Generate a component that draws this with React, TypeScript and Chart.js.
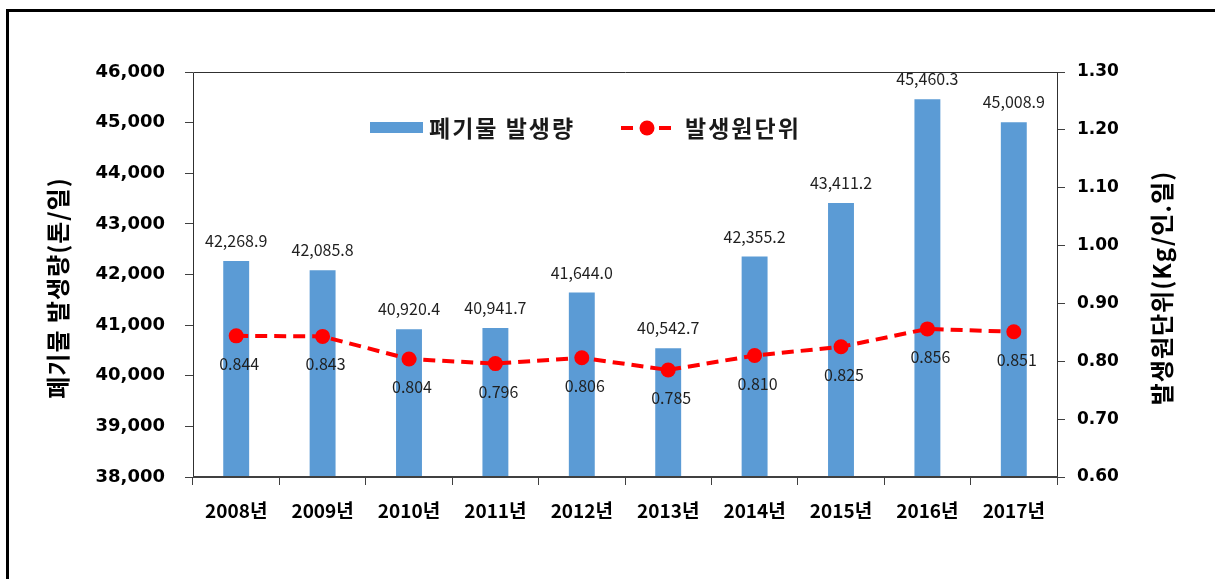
import React, { useEffect, useRef } from "react";
import { Chart, registerables } from "chart.js";
Chart.register(...registerables);

const years = ["2008년", "2009년", "2010년", "2011년", "2012년", "2013년", "2014년", "2015년", "2016년", "2017년"];
const wasteAmount = [42268.9, 42085.8, 40920.4, 40941.7, 41644.0, 40542.7, 42355.2, 43411.2, 45460.3, 45008.9];
const unitRate = [0.844, 0.843, 0.804, 0.796, 0.806, 0.785, 0.810, 0.825, 0.856, 0.851];
const leftAxisTitle = "폐기물 발생량(톤/일)";
const rightAxisTitle = "발생원단위(Kg/인.일)";
const barSeriesName = "폐기물 발생량";
const lineSeriesName = "발생원단위";

const KR = '"Noto Sans CJK KR", "Noto Sans", sans-serif';
const NUM = '"DejaVu Sans", sans-serif';
const BAR_COLOR = "#5B9BD5";
const LINE_COLOR = "#FF0000";

const fmtAmount = (v: number) =>
  v.toLocaleString("en-US", { minimumFractionDigits: 1, maximumFractionDigits: 1 });

const decorPlugin = {
  id: "decor",
  beforeDraw(chart: any) {
    const ctx = chart.ctx;
    ctx.save();
    ctx.fillStyle = "#ffffff";
    ctx.fillRect(0, 0, chart.width, chart.height);
    // outer frame (top + left)
    ctx.fillStyle = "#000000";
    ctx.fillRect(6, 9, 3, chart.height);
    ctx.fillRect(6, 9, chart.width, 3);
    ctx.restore();
  },
  afterDatasetsDraw(chart: any) {
    const ctx = chart.ctx;
    const area = chart.chartArea;
    ctx.save();
    // plot box
    ctx.strokeStyle = "#303030";
    ctx.lineWidth = 1;
    ctx.beginPath();
    ctx.moveTo(area.left + 0.5, area.bottom);
    ctx.lineTo(area.left + 0.5, area.top + 0.5);
    ctx.lineTo(area.right + 0.5, area.top + 0.5);
    ctx.lineTo(area.right + 0.5, area.bottom);
    ctx.stroke();
    ctx.strokeStyle = "#404040";
    ctx.lineWidth = 2;
    ctx.beginPath();
    ctx.moveTo(area.left, area.bottom);
    ctx.lineTo(area.right + 1, area.bottom);
    ctx.stroke();

    // bar labels
    const barMeta = chart.getDatasetMeta(1);
    ctx.font = `16px ${KR}`;
    ctx.fillStyle = "#1f1f1f";
    ctx.textAlign = "center";
    ctx.textBaseline = "middle";
    barMeta.data.forEach((el: any, i: number) => {
      ctx.fillText(fmtAmount(wasteAmount[i]), el.x, el.y - 20);
    });
    // line labels
    const lineMeta = chart.getDatasetMeta(0);
    lineMeta.data.forEach((el: any, i: number) => {
      ctx.fillText(unitRate[i].toFixed(3), el.x + 3, el.y + 28);
    });
    ctx.restore();
  },
  afterDraw(chart: any) {
    const ctx = chart.ctx;
    const drawTitle = (text: string, x: number) => {
      ctx.save();
      ctx.font = `bold 24px ${KR}`;
      (ctx as any).letterSpacing = "1px";
      ctx.fillStyle = "#000000";
      ctx.textAlign = "center";
      ctx.textBaseline = "middle";
      ctx.translate(x, 288);
      ctx.rotate(-Math.PI / 2);
      ctx.fillText(text, 0, 0);
      ctx.restore();
    };
    drawTitle(leftAxisTitle, 58);
    drawTitle(rightAxisTitle, 1162);

    // legend
    ctx.save();
    const ly = 128;
    ctx.fillStyle = BAR_COLOR;
    ctx.fillRect(370, ly - 6, 53, 11);
    ctx.font = `bold 23px ${KR}`;
    (ctx as any).letterSpacing = "2px";
    ctx.fillStyle = "#1a1a1a";
    ctx.textAlign = "left";
    ctx.textBaseline = "middle";
    ctx.fillText(barSeriesName, 429, ly);
    ctx.strokeStyle = LINE_COLOR;
    ctx.lineWidth = 4;
    ctx.setLineDash([12, 7]);
    ctx.beginPath();
    ctx.moveTo(621, ly);
    ctx.lineTo(673, ly);
    ctx.stroke();
    ctx.setLineDash([]);
    ctx.fillStyle = LINE_COLOR;
    ctx.beginPath();
    ctx.arc(647, ly, 7.5, 0, Math.PI * 2);
    ctx.fill();
    ctx.fillStyle = "#1a1a1a";
    ctx.fillText(lineSeriesName, 685, ly);
    ctx.restore();
  },
};

export default function App() {
  const ref = useRef<HTMLCanvasElement | null>(null);
  useEffect(() => {
    if (!ref.current) return;
    const chart = new Chart(ref.current, {
      data: {
        labels: years,
        datasets: [
          {
            type: "line",
            label: lineSeriesName,
            data: unitRate,
            yAxisID: "y1",
            borderColor: LINE_COLOR,
            backgroundColor: LINE_COLOR,
            borderWidth: 4,
            borderDash: [12, 7],
            pointRadius: 7.5,
            pointBackgroundColor: LINE_COLOR,
            pointBorderWidth: 0,
            tension: 0,
            order: 0,
          } as any,
          {
            type: "bar",
            label: barSeriesName,
            data: wasteAmount,
            yAxisID: "y",
            backgroundColor: BAR_COLOR,
            barPercentage: 0.3,
            categoryPercentage: 1,
            order: 1,
          } as any,
        ],
      },
      options: {
        responsive: false,
        animation: false,
        layout: { padding: { top: 72, left: 0, right: 0, bottom: 0 } },
        plugins: { legend: { display: false }, tooltip: { enabled: false } },
        scales: {
          x: {
            offset: true,
            grid: { offset: true, drawOnChartArea: false, drawTicks: true, tickLength: 8, color: "#404040" },
            border: { display: false },
            ticks: { font: { family: KR, size: 19, weight: "bold" }, color: "#000", padding: 14, maxRotation: 0 },
            afterFit: (s: any) => { s.height = 102; },
          },
          y: {
            position: "left",
            min: 38000,
            max: 46000,
            ticks: {
              stepSize: 1000,
              callback: (v: any) => Number(v).toLocaleString("en-US"),
              font: { family: NUM, size: 18, weight: "bold" },
              color: "#000",
              padding: 20,
            },
            grid: { drawOnChartArea: false, tickLength: 8, color: "#404040" },
            border: { display: false },
            afterFit: (s: any) => { s.width = 193; },
          },
          y1: {
            position: "right",
            min: 0.6,
            max: 1.3,
            ticks: {
              stepSize: 0.1,
              callback: (v: any) => Number(v).toFixed(2),
              font: { family: NUM, size: 17, weight: "bold" },
              color: "#000",
              padding: 12,
            },
            grid: { drawOnChartArea: false, tickLength: 8, color: "#404040" },
            border: { display: false },
            afterFit: (s: any) => { s.width = 158; },
          },
        },
      } as any,
      plugins: [decorPlugin],
    });
    return () => chart.destroy();
  }, []);
  return (
    <div style={{ position: "fixed", left: 0, top: 0, width: 1215, height: 579, background: "#fff" }}>
      <canvas ref={ref} width={1215} height={579} style={{ display: "block" }} />
    </div>
  );
}
